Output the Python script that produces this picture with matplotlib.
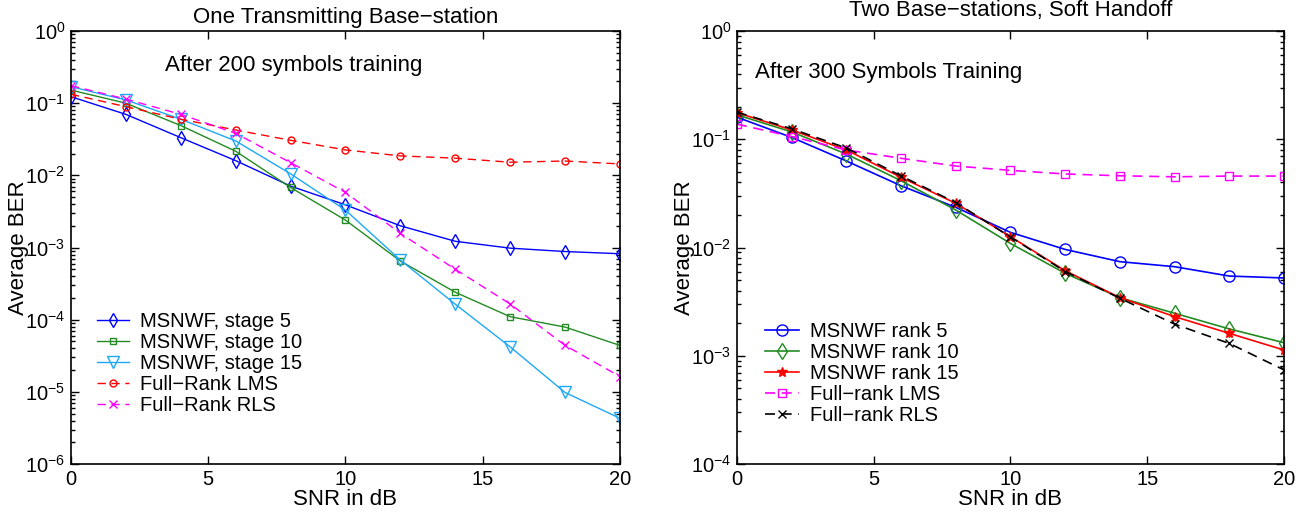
import matplotlib
matplotlib.use("Agg")
from matplotlib import pyplot as plt
from matplotlib.ticker import LogLocator, NullFormatter

plt.rcParams['font.family'] = ['Liberation Sans', 'DejaVu Sans']
plt.rcParams['font.size'] = 14.5
plt.rcParams['mathtext.fontset'] = 'custom'
plt.rcParams['mathtext.rm'] = 'Liberation Sans'

snr = [0, 2, 4, 6, 8, 10, 12, 14, 16, 18, 20]

# left panel: one transmitting base-station
stage5 = [0.123, 0.070, 0.0333, 0.016, 0.0071, 0.0039, 0.0020, 0.00122, 0.00098, 0.00088, 0.00082]
stage10 = [0.152, 0.100, 0.049, 0.0216, 0.0068, 0.0024, 0.00065, 0.00024, 0.00011, 7.9e-5, 4.4e-5]
stage15 = [0.169, 0.111, 0.060, 0.030, 0.0105, 0.0033, 0.00067, 0.000164, 4.2e-5, 9.8e-6, 4.3e-6]
lms_left = [0.133, 0.0895, 0.060, 0.0425, 0.0306, 0.0225, 0.0186, 0.0173, 0.0152, 0.0158, 0.0144]
rls_left = [0.175, 0.114, 0.070, 0.0383, 0.015, 0.0058, 0.00157, 0.0005, 0.000165, 4.4e-5, 1.63e-5]

# right panel: two base-stations, soft handoff
rank5 = [0.160, 0.104, 0.063, 0.0372, 0.0235, 0.0138, 0.0096, 0.0074, 0.00665, 0.00545, 0.00523]
rank10 = [0.168, 0.117, 0.073, 0.0414, 0.0222, 0.0109, 0.00578, 0.00344, 0.00247, 0.00177, 0.00132]
rank15 = [0.176, 0.122, 0.0796, 0.0445, 0.0256, 0.0126, 0.0061, 0.00344, 0.0023, 0.00161, 0.00113]
lms_right = [0.138, 0.106, 0.0796, 0.0667, 0.0566, 0.0516, 0.0478, 0.046, 0.045, 0.0457, 0.0457]
rls_right = [0.178, 0.125, 0.083, 0.0458, 0.026, 0.0125, 0.006, 0.0034, 0.00196, 0.0013, 0.00074]

fig = plt.figure(figsize=(13.09, 5.17), dpi=100)
ax1 = fig.add_axes([0.0542, 0.1025, 0.4194, 0.8375])
ax2 = fig.add_axes([0.563, 0.1025, 0.4179, 0.8375])

ax1.semilogy(snr, stage5, '-', color='#0000ff', marker='d', mfc='none', ms=7, lw=1, label='MSNWF, stage 5')
ax1.semilogy(snr, stage10, '-', color='#228b22', marker='s', mfc='none', ms=4, lw=1, label='MSNWF, stage 10')
ax1.semilogy(snr, stage15, '-', color='#1ea8f5', marker='v', mfc='none', ms=8, lw=1, label='MSNWF, stage 15')
ax1.semilogy(snr, lms_left, '--', color='#ff0000', marker='o', mfc='none', ms=5, lw=1, dashes=(6, 4), label='Full\u2212Rank LMS')
ax1.semilogy(snr, rls_left, '--', color='#ff00ff', marker='x', ms=6, lw=1, dashes=(6, 4), label='Full\u2212Rank RLS')

ax2.semilogy(snr, rank5, '-', color='#0000ff', marker='o', mfc='none', ms=8, lw=1.2, label='MSNWF rank 5')
ax2.semilogy(snr, rank10, '-', color='#228b22', marker='d', mfc='none', ms=8, lw=1.2, label='MSNWF rank 10')
ax2.semilogy(snr, rank15, '-', color='#ff0000', marker='*', ms=7, lw=1.2, label='MSNWF rank 15')
ax2.semilogy(snr, lms_right, '--', color='#ff00ff', marker='s', mfc='none', ms=6, lw=1.2, dashes=(6, 4), label='Full\u2212rank LMS')
ax2.semilogy(snr, rls_right, '--', color='#000000', marker='x', ms=6, lw=1.2, dashes=(6, 4), label='Full\u2212rank RLS')

for ax in (ax1, ax2):
    ax.set_xlim(0, 20)
    ax.set_xticks([0, 5, 10, 15, 20])
    ax.set_xlabel('SNR in dB', fontsize=16, labelpad=0)
    ax.set_ylabel('Average BER', fontsize=16, labelpad=-3)
    ax.yaxis.set_minor_locator(LogLocator(base=10, subs=range(2, 10), numticks=20))
    ax.yaxis.set_minor_formatter(NullFormatter())
    ax.tick_params(which='both', direction='in', top=True, right=True)
    ax.tick_params(which='major', length=6, width=1, pad=4)
    ax.tick_params(which='minor', length=3, width=1)
    for s in ax.spines.values():
        s.set_linewidth(1.2)

ax1.set_ylim(1e-6, 1)
ax2.set_ylim(1e-4, 1)

ax1.set_title('One Transmitting Base\u2212station', fontsize=16, pad=6)
ax2.set_title('Two Base\u2212stations, Soft Handoff', fontsize=16, pad=11)
ax1.text(0.171, 0.921, 'After 200 symbols training', transform=ax1.transAxes, fontsize=16, va='center')
ax2.text(0.033, 0.905, 'After 300 Symbols Training', transform=ax2.transAxes, fontsize=16, va='center')

ax1.legend(loc='lower left', bbox_to_anchor=(0.033, 0.095), frameon=False, fontsize=14.5,
           handlelength=1.6, handletextpad=0.55, labelspacing=0.1, borderaxespad=0)
ax2.legend(loc='lower left', bbox_to_anchor=(0.036, 0.072), frameon=False, fontsize=14.5,
           handlelength=1.7, handletextpad=0.55, labelspacing=0.1, borderaxespad=0)

fig.savefig('out.png', dpi=100)
